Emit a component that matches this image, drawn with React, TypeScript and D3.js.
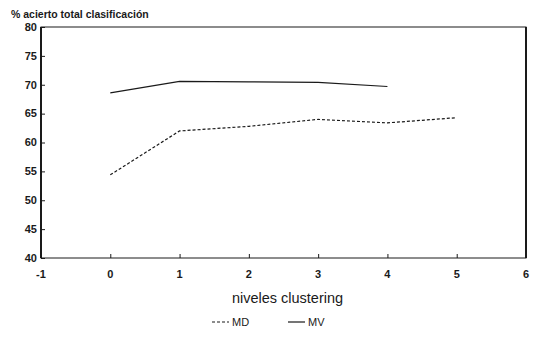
import * as d3 from "d3";
import { useEffect, useRef } from "react";

const mdLevels = [0, 1, 2, 3, 4, 5];
const mdValues = [54.4, 62.0, 62.8, 64.0, 63.4, 64.3];
const mvLevels = [0, 1, 2, 3, 4];
const mvValues = [68.6, 70.6, 70.5, 70.4, 69.7];
const xTicks = [-1, 0, 1, 2, 3, 4, 5, 6];
const yTicks = [40, 45, 50, 55, 60, 65, 70, 75, 80];

export default function App() {
  const ref = useRef<SVGSVGElement>(null);

  useEffect(() => {
    const svg = d3.select(ref.current);
    svg.selectAll("*").remove();
    const width = 534;
    const height = 344;
    const m = { left: 41, right: 8, top: 27, bottom: 86 };

    const x = d3.scaleLinear().domain([-1, 6]).range([m.left, width - m.right]);
    const y = d3.scaleLinear().domain([40, 80]).range([height - m.bottom, m.top]);
    const ink = "#1a1a1a";
    const font = "'Liberation Sans', Arial, sans-serif";

    svg.attr("viewBox", `0 0 ${width} ${height}`);
    svg.append("rect").attr("width", width).attr("height", height).attr("fill", "#fff");

    // frame
    svg.append("rect")
      .attr("x", x(-1)).attr("y", y(80))
      .attr("width", x(6) - x(-1)).attr("height", y(40) - y(80))
      .attr("fill", "none").attr("stroke", ink).attr("stroke-width", 1);
    svg.append("line")
      .attr("x1", x(-1)).attr("x2", x(-1)).attr("y1", y(80)).attr("y2", y(40))
      .attr("stroke", ink).attr("stroke-width", 2);
    svg.append("line")
      .attr("x1", x(6)).attr("x2", x(6)).attr("y1", y(80)).attr("y2", y(40))
      .attr("stroke", ink).attr("stroke-width", 2);

    // y axis
    const yAxis = svg.append("g")
      .attr("transform", `translate(${x(-1)},0)`)
      .call(d3.axisRight(y).tickValues(yTicks).tickSize(4).tickFormat(() => ""));
    yAxis.select(".domain").remove();
    yAxis.selectAll("line").attr("stroke", ink);
    svg.append("g").selectAll("text")
      .data(yTicks)
      .join("text")
      .attr("x", x(-1) - 4)
      .attr("y", d => y(d))
      .attr("dy", "0.35em")
      .attr("text-anchor", "end")
      .attr("font-family", font)
      .attr("font-weight", "bold")
      .attr("font-size", 11)
      .attr("fill", ink)
      .text(d => d);

    // x axis
    const xAxis = svg.append("g")
      .attr("transform", `translate(0,${y(40)})`)
      .call(d3.axisTop(x).tickValues(xTicks.filter(d => d >= 0 && d <= 5)).tickSize(4).tickFormat(() => ""));
    xAxis.select(".domain").remove();
    xAxis.selectAll("line").attr("stroke", ink);
    svg.append("g").selectAll("text")
      .data(xTicks)
      .join("text")
      .attr("x", d => x(d))
      .attr("y", y(40) + 20)
      .attr("text-anchor", "middle")
      .attr("font-family", font)
      .attr("font-weight", "bold")
      .attr("font-size", 11)
      .attr("fill", ink)
      .text(d => d);

    const line = d3.line<[number, number]>()
      .x(d => x(d[0]))
      .y(d => y(d[1]));

    svg.append("path")
      .datum(d3.zip(mdLevels, mdValues) as [number, number][])
      .attr("d", line)
      .attr("fill", "none")
      .attr("stroke", ink)
      .attr("stroke-width", 1.2)
      .attr("stroke-dasharray", "3,2");

    svg.append("path")
      .datum(d3.zip(mvLevels, mvValues) as [number, number][])
      .attr("d", line)
      .attr("fill", "none")
      .attr("stroke", ink)
      .attr("stroke-width", 1.2);

    // title & axis label
    svg.append("text")
      .attr("x", 11).attr("y", 18)
      .attr("font-family", font).attr("font-weight", "bold").attr("font-size", 10.5)
      .attr("fill", ink)
      .text("% acierto total clasificación");

    svg.append("text")
      .attr("x", (x(-1) + x(6)) / 2 + 4).attr("y", 303)
      .attr("text-anchor", "middle")
      .attr("font-family", font).attr("font-size", 14.5)
      .attr("fill", ink)
      .text("niveles clustering");

    // legend
    const legend = [
      { name: "MD", x0: 212, dash: "3,2" },
      { name: "MV", x0: 288, dash: null },
    ];
    const lg = svg.append("g").selectAll("g").data(legend).join("g");
    lg.append("line")
      .attr("x1", d => d.x0).attr("x2", d => d.x0 + 17)
      .attr("y1", 322).attr("y2", 322)
      .attr("stroke", ink).attr("stroke-width", 1.2)
      .attr("stroke-dasharray", d => d.dash);
    lg.append("text")
      .attr("x", d => d.x0 + 20).attr("y", 326)
      .attr("font-family", font).attr("font-size", 11)
      .attr("fill", ink)
      .text(d => d.name);
  }, []);

  return (
    <svg
      ref={ref}
      width={534}
      height={344}
      style={{ position: "absolute", left: 0, top: 0, display: "block" }}
    />
  );
}
